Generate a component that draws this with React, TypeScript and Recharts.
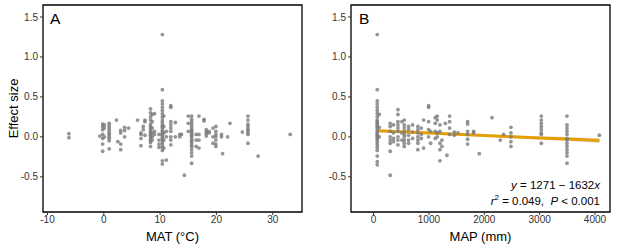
import React from 'react';
import { ComposedChart, Scatter, XAxis, YAxis, ReferenceArea, Line, Area } from 'recharts';

// Panel A: mean annual temperature (°C) columns and their effect sizes
const matX = [-6.2, -0.7, -0.2, 0.1, 0.95, 2.25, 2.5, 3.0, 3.7, 4.4, 6.0, 6.6, 7.0, 7.3, 8.3, 8.6, 9.0, 9.8, 10.4, 10.65, 11.1, 11.9, 12.7, 13.5, 13.8, 14.3, 15.0, 15.6, 16.4, 16.9, 17.8, 18.2, 18.7, 19.4, 19.9, 20.9, 21.1, 22.0, 22.4, 24.6, 25.6, 27.4, 33.1];
const matY = [
  [0.04, -0.01],
  [0.01],
  [0.16, 0.13, 0.09, 0.03, -0.02, -0.09, -0.18],
  [0.15, 0.11, 0.0],
  [0.17, 0.14, 0.11, 0.08, 0.05, 0.03, 0.0, -0.02, -0.05, -0.15],
  [0.21],
  [-0.06],
  [0.08, 0.05, -0.09, -0.16],
  [0.12, 0.08, 0.0],
  [0.11],
  [0.21],
  [0.05, 0.03, -0.02, -0.11],
  [0.13, 0.09],
  [0.21, 0.19, 0.02],
  [0.35, 0.3, 0.25, 0.21, 0.16, 0.13, 0.11, 0.08, 0.06, 0.04, 0.02, 0.0, -0.03, -0.05, -0.07, -0.12],
  [0.28, 0.19, 0.11, 0.05, 0.0, -0.04],
  [0.29, 0.07, 0.03],
  [0.03, -0.04, -0.09, -0.13],
  [1.28, 0.59, 0.45, 0.41, 0.37, 0.33, 0.29, 0.25, 0.21, 0.18, 0.15, 0.13, 0.11, 0.08, 0.06, 0.04, 0.02, 0.0, -0.02, -0.04, -0.07, -0.1, -0.13, -0.17, -0.3, -0.34],
  [0.26, 0.13, 0.05, -0.04, -0.14],
  [-0.29, 0.07, 0.0],
  [0.39, 0.37, 0.19, 0.15, 0.11, 0.07, 0.0, -0.04, -0.1],
  [0.18, 0.0],
  [0.03, 0.0],
  [0.03],
  [-0.48],
  [0.26, 0.17, 0.07],
  [0.26, 0.22, 0.19, 0.16, 0.13, 0.1, 0.08, 0.06, 0.04, 0.02, 0.0, -0.03, -0.05, -0.07, -0.1, -0.12, -0.16, -0.2, -0.24, -0.33],
  [0.03, -0.04, -0.12],
  [0.26, 0.03, -0.04, -0.14],
  [0.22, 0.2],
  [0.09, 0.06, 0.04, 0.01],
  [0.07, 0.05],
  [0.11, 0.0, -0.08],
  [0.13, 0.07, 0.03, 0.0, -0.04, -0.09, -0.12],
  [0.03, 0.0],
  [-0.21],
  [0.0],
  [0.17],
  [0.06],
  [0.26, 0.21, 0.16, 0.13, 0.1, 0.08, 0.05, 0.03, -0.08],
  [-0.24],
  [0.03],
];

// Panel B: mean annual precipitation (mm) columns and their effect sizes
const mapX = [66, 102, 300, 360, 440, 512, 554, 632, 705, 800, 861, 904, 994, 1030, 1114, 1150, 1199, 1235, 1295, 1325, 1373, 1458, 1524, 1699, 1807, 1910, 2139, 2289, 2349, 2482, 3030, 3494, 4078];
const mapY = [
  [1.28, 0.59, 0.45, 0.41, 0.37, 0.33, 0.29, 0.25, 0.21, 0.19, 0.17, 0.15, 0.13, 0.11, 0.08, 0.06, 0.04, 0.02, 0.0, -0.02, -0.04, -0.07, -0.1, -0.13, -0.17, -0.24, -0.31, -0.35],
  [0.28, 0.12, 0.0],
  [0.17, 0.13, 0.07, 0.0, -0.04, -0.08, -0.18, -0.48],
  [0.15, 0.05, -0.02, -0.06],
  [0.34, 0.28, 0.19, 0.15, 0.11, 0.07, 0.0, -0.04, -0.1],
  [0.19, 0.05, -0.04],
  [0.21, 0.15, 0.11, 0.07, 0.03, 0.0, -0.04, -0.08, -0.12],
  [0.13, 0.09, 0.02, -0.04, -0.08],
  [0.15, 0.06, -0.02],
  [0.13, 0.09, 0.05, 0.0, -0.04, -0.08, -0.16],
  [0.11, 0.03, -0.02],
  [0.21, -0.14],
  [0.39, 0.37, 0.19, 0.09, 0.0],
  [0.07, -0.08],
  [0.24, 0.17, 0.07, -0.02],
  [0.26, 0.21, 0.05, 0.0],
  [0.15, 0.07, -0.08, -0.16, -0.3],
  [-0.04, -0.12],
  [0.17],
  [-0.23],
  [0.26, 0.19, 0.11, 0.03],
  [0.06, 0.02],
  [0.05],
  [0.19, 0.16, 0.07, 0.03, -0.03, -0.09],
  [0.07, 0.05],
  [-0.21],
  [0.24],
  [-0.04],
  [0.03],
  [0.12, 0.05, 0.0, -0.06, -0.12],
  [0.26, 0.21, 0.17, 0.13, 0.09, 0.05, 0.03, -0.08],
  [0.26, 0.15, 0.11, 0.07, 0.03, -0.02, -0.04, -0.08, -0.12, -0.16, -0.2, -0.24, -0.33],
  [0.02],
];

// Fitted line and confidence band (panel B)
const fitX = [73, 500, 1000, 1500, 2000, 2500, 3000, 3500, 4080];
const fitY = [0.076, 0.063, 0.048, 0.032, 0.017, 0.002, -0.013, -0.028, -0.046];
const bandHalf = [0.018, 0.012, 0.01, 0.01, 0.012, 0.016, 0.02, 0.025, 0.03];

const yTicks = [-0.5, 0, 0.5, 1, 1.5];
const matTicks = [-10, 0, 10, 20, 30];
const mapTicks = [0, 1000, 2000, 3000, 4000];

const yDomain: [number, number] = [-0.94, 1.65];
const matDomain: [number, number] = [-10.8, 35.2];
const mapDomain: [number, number] = [-408, 4271];

const flatten = (xs: number[], ys: number[][]) =>
  xs.flatMap((x, i) => ys[i].map((y) => ({ x, y })));

const matPoints = flatten(matX, matY);
const mapPoints = flatten(mapX, mapY);
const fitRows = fitX.map((x, i) => ({
  x,
  fit: fitY[i],
  band: [fitY[i] - bandHalf[i], fitY[i] + bandHalf[i]],
}));

const Dot = (p: any) => (
  <circle cx={p.cx} cy={p.cy} r={1.9} fill="#7b7b7b" fillOpacity={0.8} />
);

const YTitle = (props: any) => {
  const vb = props.viewBox || { x: 0, y: 5, width: 43, height: 207 };
  const x = vb.x + 13.5;
  const y = vb.y + vb.height / 2;
  return (
    <text
      x={x}
      y={y}
      transform={`rotate(-90 ${x} ${y})`}
      textAnchor="middle"
      dominantBaseline="central"
      fontSize={13}
      fill="#000"
    >
      Effect size
    </text>
  );
};

const tickStyle = { fontSize: 10, fill: '#333' };
const fmtY = (v: number) => v.toFixed(1);

export default function App() {
  return (
    <div
      style={{
        position: 'absolute',
        left: 0,
        top: 0,
        width: 617,
        height: 246,
        background: '#fff',
        fontFamily: '"Liberation Sans", Arial, sans-serif',
      }}
    >
      <div style={{ position: 'absolute', left: 0, top: 0 }}>
        <ComposedChart
          width={310}
          height={246}
          data={[]}
          margin={{ top: 5, right: 8, left: 0, bottom: 0 }}
        >
          <XAxis
            dataKey="x"
            type="number"
            domain={matDomain}
            ticks={matTicks}
            allowDataOverflow
            axisLine={false}
            tickSize={3}
            tickMargin={1}
            tick={tickStyle}
            tickLine={{ stroke: '#333' }}
            height={34}
            label={{ value: 'MAT (°C)', position: 'insideBottom', offset: 5.5, fontSize: 13, fill: '#000' }}
          />
          <YAxis
            dataKey="y"
            type="number"
            domain={yDomain}
            ticks={yTicks}
            allowDataOverflow
            axisLine={false}
            tickSize={3}
            tickMargin={2}
            tick={tickStyle}
            tickLine={{ stroke: '#333' }}
            tickFormatter={fmtY}
            width={43}
            label={<YTitle />}
          />
          <Scatter data={matPoints} dataKey="y" shape={Dot} isAnimationActive={false} />
          <ReferenceArea
            x1={matDomain[0]}
            x2={matDomain[1]}
            y1={yDomain[0]}
            y2={yDomain[1]}
            fill="none"
            fillOpacity={0}
            stroke="#000"
            strokeWidth={1.3}
          />
        </ComposedChart>
      </div>
      <div style={{ position: 'absolute', left: 308, top: 0 }}>
        <ComposedChart
          width={309}
          height={246}
          data={fitRows}
          margin={{ top: 5, right: 7, left: 0, bottom: 0 }}
        >
          <XAxis
            dataKey="x"
            type="number"
            domain={mapDomain}
            ticks={mapTicks}
            allowDataOverflow
            axisLine={false}
            tickSize={3}
            tickMargin={1}
            tick={tickStyle}
            tickLine={{ stroke: '#333' }}
            height={34}
            label={{ value: 'MAP (mm)', position: 'insideBottom', offset: 5.5, fontSize: 13, fill: '#000' }}
          />
          <YAxis
            dataKey="y"
            type="number"
            domain={yDomain}
            ticks={yTicks}
            allowDataOverflow
            axisLine={false}
            tickSize={3}
            tickMargin={2}
            tick={tickStyle}
            tickLine={{ stroke: '#333' }}
            tickFormatter={fmtY}
            width={43}
          />
          <Scatter data={mapPoints} dataKey="y" shape={Dot} isAnimationActive={false} />
          <Area
            dataKey="band"
            type="linear"
            stroke="none"
            fill="#bdbdbd"
            fillOpacity={0.55}
            isAnimationActive={false}
          />
          <Line
            dataKey="fit"
            type="linear"
            stroke="#E69F00"
            strokeWidth={3}
            dot={false}
            activeDot={false}
            isAnimationActive={false}
          />
          <ReferenceArea
            x1={mapDomain[0]}
            x2={mapDomain[1]}
            y1={yDomain[0]}
            y2={yDomain[1]}
            fill="none"
            fillOpacity={0}
            stroke="#000"
            strokeWidth={1.3}
          />
        </ComposedChart>
      </div>
      <div style={{ position: 'absolute', left: 50, top: 10, fontSize: 15.5, lineHeight: '18px', color: '#000' }}>A</div>
      <div style={{ position: 'absolute', left: 359, top: 10, fontSize: 15.5, lineHeight: '18px', color: '#000' }}>B</div>
      <div
        style={{
          position: 'absolute',
          right: 17,
          top: 177,
          fontSize: 11.5,
          lineHeight: '16px',
          textAlign: 'right',
          color: '#000',
          whiteSpace: 'nowrap',
        }}
      >
        <div>
          <i>y</i> = 1271 − 1632<i>x</i>
        </div>
        <div>
          <i>r</i>
          <sup style={{ fontSize: 8, lineHeight: 0 }}>2</sup> = 0.049,&nbsp; <i>P</i> &lt; 0.001
        </div>
      </div>
    </div>
  );
}
